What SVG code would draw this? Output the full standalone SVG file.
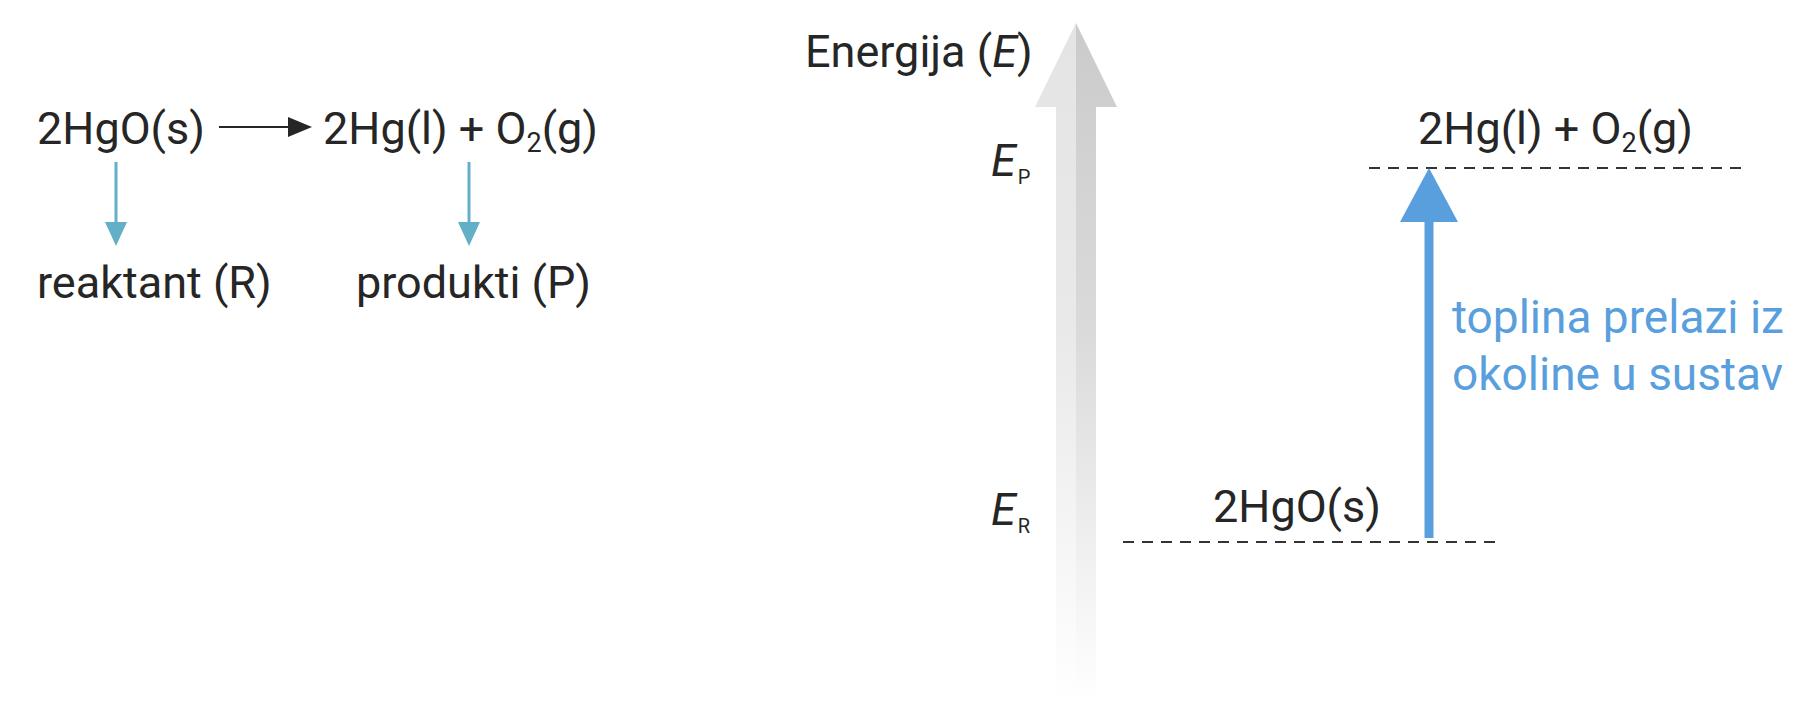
<svg xmlns="http://www.w3.org/2000/svg" width="1811" height="722" viewBox="0 0 1811 722">
<defs>
<style>
text{font-family:Roboto,"Liberation Sans",sans-serif;font-size:45px;fill:#262626}
.blue{fill:#5a9fdd;font-size:46px}
.sub{font-size:27px}
.tiny{font-size:20px}
.dash{stroke:#333;stroke-width:2;stroke-dasharray:11 8;fill:none}
.teal{stroke:#64afc8;stroke-width:3;fill:none}
.tealfill{fill:#64afc8}
</style>
<linearGradient id="gL" x1="0" y1="0" x2="0" y2="1" gradientUnits="objectBoundingBox">
<stop offset="0" stop-color="#e4e4e4"/>
<stop offset="0.45" stop-color="#e9e9e9"/>
<stop offset="1" stop-color="#ffffff"/>
</linearGradient>
<linearGradient id="gR" x1="0" y1="0" x2="0" y2="1" gradientUnits="objectBoundingBox">
<stop offset="0" stop-color="#cbcbcb"/>
<stop offset="0.45" stop-color="#dadada"/>
<stop offset="1" stop-color="#ffffff"/>
</linearGradient>
</defs>

<g id="reaction-left">
<g id="reactant-formula"><text x="37" y="144">2HgO(s)</text></g>
<g id="product-formula"><text x="323" y="144">2Hg(l) + O<tspan class="sub" dy="8">2</tspan><tspan dy="-8">(g)</tspan></text></g>
<g id="reactant-label"><text x="37" y="298">reaktant (R)</text></g>
<g id="product-label"><text x="356" y="298">produkti (P)</text></g>
</g>

<g id="energy-axis">
<polygon points="1076,23 1035,107 1056,107 1056,705 1076,705" fill="url(#gL)"/>
<polygon points="1076,23 1117,107 1096,107 1096,705 1076,705" fill="url(#gR)"/>
<text x="805" y="67">Energija (<tspan font-style="italic">E</tspan>)</text>
</g>

<g id="EP"><text x="991" y="176"><tspan font-style="italic">E</tspan><tspan class="tiny" dx="2" dy="8">P</tspan></text></g>
<g id="ER"><text x="991" y="525"><tspan font-style="italic">E</tspan><tspan class="tiny" dx="2" dy="8">R</tspan></text></g>

<g id="product-level">
<text x="1418" y="144">2Hg(l) + O<tspan class="sub" dy="8">2</tspan><tspan dy="-8">(g)</tspan></text>
</g>
<g id="reactant-level">
<text x="1213" y="522">2HgO(s)</text>
</g>
<g id="heat-label">
<text class="blue" x="1452" y="333">toplina prelazi iz</text>
<text class="blue" x="1452" y="390">okoline u sustav</text>
</g>

<g id="connectors">
<line x1="219" y1="127" x2="292" y2="127" stroke="#262626" stroke-width="2"/>
<polygon points="312,127 288,117 288,137" fill="#262626"/>
<line class="teal" x1="116" y1="162" x2="116" y2="224"/>
<polygon class="tealfill" points="105,222 127,222 116,246"/>
<line class="teal" x1="469" y1="162" x2="469" y2="224"/>
<polygon class="tealfill" points="458,222 480,222 469,246"/>
<line class="dash" x1="1369" y1="168" x2="1741" y2="168"/>
<line class="dash" x1="1123" y1="542" x2="1496" y2="542"/>
<line x1="1429" y1="538" x2="1429" y2="215" stroke="#5a9fdd" stroke-width="9"/>
<polygon points="1429,168 1400,222 1458,222" fill="#5a9fdd"/>
</g>
</svg>
